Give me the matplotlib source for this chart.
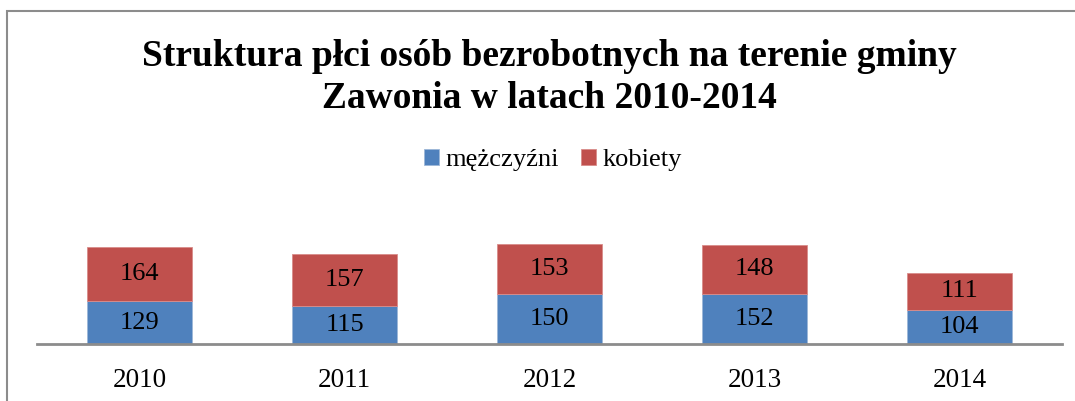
import matplotlib

matplotlib.use("Agg")
import matplotlib.pyplot as plt
from matplotlib.patches import Rectangle

years = ["2010", "2011", "2012", "2013", "2014"]
men = [129, 115, 150, 152, 104]
women = [164, 157, 153, 148, 111]

BLUE = "#4F81BD"
RED = "#C0504D"

W, H = 1075, 401
plt.rcParams["font.family"] = ["Liberation Serif", "DejaVu Serif"]

fig = plt.figure(figsize=(W / 100, H / 100), dpi=100)

# chart frame (only left and top edges fall inside the crop)
fig.patches.append(
    Rectangle((7 / W, -0.1), 1.2, 1 - 11 / H + 0.1, transform=fig.transFigure,
              fill=False, edgecolor="#8c8c8c", linewidth=1.5)
)

ax_top, ax_bot = 200, 344
ax = fig.add_axes([37 / W, 1 - ax_bot / H, (1062 - 37) / W, (ax_bot - ax_top) / H])
x = range(len(years))
b1 = ax.bar(x, men, width=0.51, color=BLUE, edgecolor="#9db7d8", linewidth=0.6, label="mężczyźni")
b2 = ax.bar(x, women, width=0.51, bottom=men, color=RED, edgecolor="#d98c8a", linewidth=0.6, label="kobiety")
ax.bar_label(b1, label_type="center", fontsize=19)
ax.bar_label(b2, label_type="center", fontsize=19)

ax.set_xlim(-0.5, len(years) - 0.5)
ax.set_ylim(0, (ax_bot - ax_top) / 0.331)
ax.set_xticks(list(x))
ax.set_xticklabels(years, fontsize=19.5)
ax.tick_params(axis="x", length=0, pad=17)
ax.set_yticks([])
for side in ("top", "right", "left"):
    ax.spines[side].set_visible(False)
ax.spines["bottom"].set_color("#8c8c8c")
ax.spines["bottom"].set_linewidth(2)

fig.text(549.5 / W, 1 - 56 / H, "Struktura płci osób bezrobotnych na terenie gminy",
         ha="center", va="center", fontsize=27, fontweight="bold")
fig.text(549.5 / W, 1 - 99 / H, "Zawonia w latach 2010-2014",
         ha="center", va="center", fontsize=27, fontweight="bold")

fig.legend(handles=[b1, b2], loc="center", bbox_to_anchor=(553 / W, 1 - 160 / H),
           ncol=2, frameon=False, fontsize=19, handlelength=0.55, handleheight=0.55,
           handletextpad=0.25, columnspacing=0.85)

fig.savefig("out.png", dpi=100)
